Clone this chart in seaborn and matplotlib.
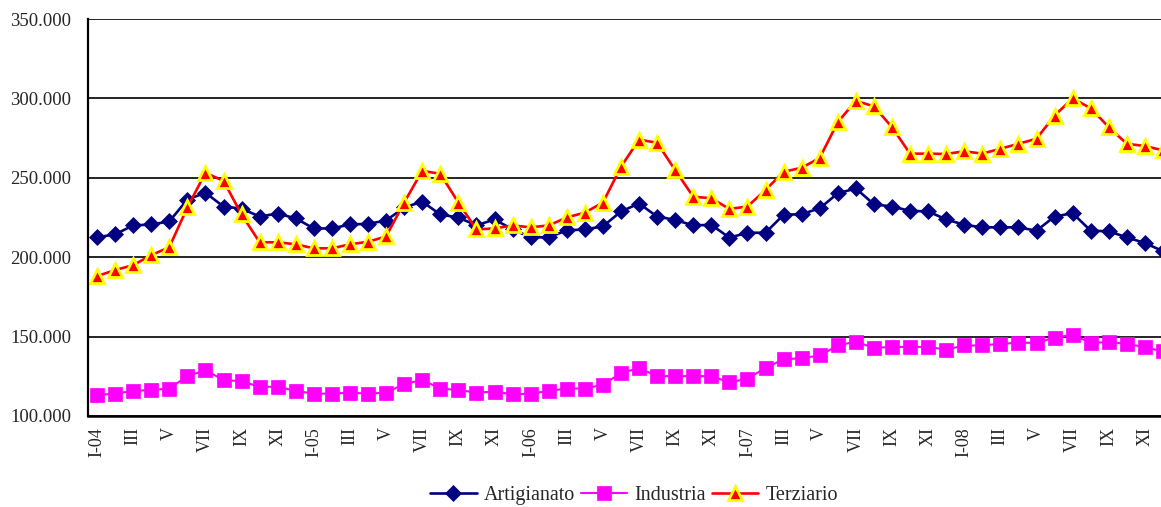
"""Monthly series 2004-2008: Artigianato / Industria / Terziario (line chart)."""

import matplotlib
matplotlib.use("Agg")
import matplotlib.pyplot as plt
import matplotlib.ticker as mticker
import numpy as np
import pandas as pd
import seaborn as sns

# -----------------------------------------------------------------------------
# data

MONTHS = ["I", "II", "III", "IV", "V", "VI", "VII", "VIII", "IX", "X", "XI", "XII"]
YEARS = ["04", "05", "06", "07", "08"]

artigianato = [
    212500, 214400, 220000, 220600, 222500, 236300, 240600, 231900, 230600, 225600, 227500, 224400,
    218100, 218100, 220600, 221000, 223100, 231300, 235000, 226900, 225000, 220000, 223800, 217500,
    212500, 212500, 216900, 217500, 219400, 228800, 233800, 225600, 223500, 220000, 220400, 212300,
    215400, 215400, 226700, 227100, 230800, 240200, 243300, 233300, 231900, 229200, 228800, 223800,
    220400, 218800, 218800, 218800, 216700, 225600, 227700, 216700, 216300, 212500, 208900, 203800,
]
industria = [
    113200, 114100, 115800, 116400, 117300, 125100, 128800, 122700, 121900, 118400, 118400, 115800,
    114100, 114100, 114700, 114100, 114700, 120100, 122700, 117300, 116400, 114700, 115400, 113600,
    114100, 115800, 117300, 117300, 119700, 127000, 130200, 125100, 125100, 125100, 125100, 121200,
    123400, 130300, 135700, 136400, 138100, 144400, 146800, 142900, 143500, 143500, 143500, 141800,
    144400, 144400, 145500, 146100, 146100, 149400, 151100, 146100, 146500, 145500, 143300, 140700,
]
terziario = [
    188100, 191900, 195000, 201300, 206300, 231300, 253100, 248100, 226900, 209400, 209400, 208100,
    205600, 205600, 208100, 209700, 213100, 234400, 254400, 252500, 234400, 217500, 218100, 220000,
    218800, 220000, 225000, 228100, 234400, 256900, 274000, 272100, 254800, 238100, 237100, 230400,
    231900, 242300, 253800, 256300, 262500, 285000, 298500, 295000, 281900, 265200, 265200, 265000,
    266700, 265200, 268300, 271400, 274600, 289200, 300000, 293800, 281900, 271400, 270000, 267300,
]

# -----------------------------------------------------------------------------

periods = [f"{m}-{y}" if m == "I" else m for y in YEARS for m in MONTHS]
pos = np.arange(len(periods))

df = pd.DataFrame({
    "pos": np.tile(pos, 3),
    "valore": artigianato + industria + terziario,
    "settore": ["Artigianato"] * 60 + ["Industria"] * 60 + ["Terziario"] * 60,
})

styles = {
    "Artigianato": dict(color="#000080", lw=1.9, marker="D", ms=8.3,
                        mfc="#000080", mec="#000080", mew=0.5),
    "Industria": dict(color="#FF00FF", lw=1.5, marker="s", ms=10.5,
                      mfc="#FF00FF", mec="#FF00FF", mew=0.5),
    "Terziario": dict(color="#FF0000", lw=1.9, marker="^", ms=9.8,
                      mfc="#FF0000", mec="#FFFF00", mew=2.0),
}

sns.set_style("white")
plt.rcParams["font.family"] = ["Liberation Serif", "DejaVu Serif"]

fig = plt.figure(figsize=(11.61, 5.07), dpi=100)
ax = fig.add_axes([88 / 1161, 91 / 507, 1084 / 1161, 397 / 507])

for name, st in styles.items():
    sub = df[df["settore"] == name]
    sns.lineplot(data=sub, x="pos", y="valore", ax=ax, label=name,
                 legend=False, clip_on=False, **st)

ax.set_xlim(-0.5, len(periods) - 0.5)
ax.set_ylim(100000, 350000)
ax.yaxis.set_major_locator(mticker.MultipleLocator(50000))
ax.yaxis.set_major_formatter(
    mticker.FuncFormatter(lambda v, _: f"{int(v):,}".replace(",", ".")))
ax.grid(axis="y", color="black", lw=1.2)
ax.set_axisbelow(True)

# category ticks between months, labels every second month
ax.set_xticks(pos[::2])
ax.set_xticklabels(periods[::2], rotation=90, fontsize=13)
ax.set_xticks(np.arange(-0.5, len(periods)), minor=True)
ax.tick_params(axis="x", which="major", length=0, pad=8)
ax.tick_params(axis="x", which="minor", length=6, width=1.5, direction="out", color="black")
ax.tick_params(axis="y", length=6, width=1.5, direction="out", color="black",
               labelsize=13.5, pad=6)

ax.set_xlabel("")
ax.set_ylabel("")
for side in ("top", "right"):
    ax.spines[side].set_visible(False)
ax.spines["left"].set_color("black")
ax.spines["left"].set_linewidth(1.6)
ax.spines["bottom"].set_color("black")
ax.spines["bottom"].set_linewidth(1.8)

handles, labels = ax.get_legend_handles_labels()
fig.legend(handles, labels, loc="center", bbox_to_anchor=(634 / 1161, 1 - 495 / 507),
           ncol=3, frameon=False, fontsize=14.5, handlelength=2.3,
           handletextpad=0.35, columnspacing=0.3, borderaxespad=0)

fig.savefig("out.png", dpi=100)
